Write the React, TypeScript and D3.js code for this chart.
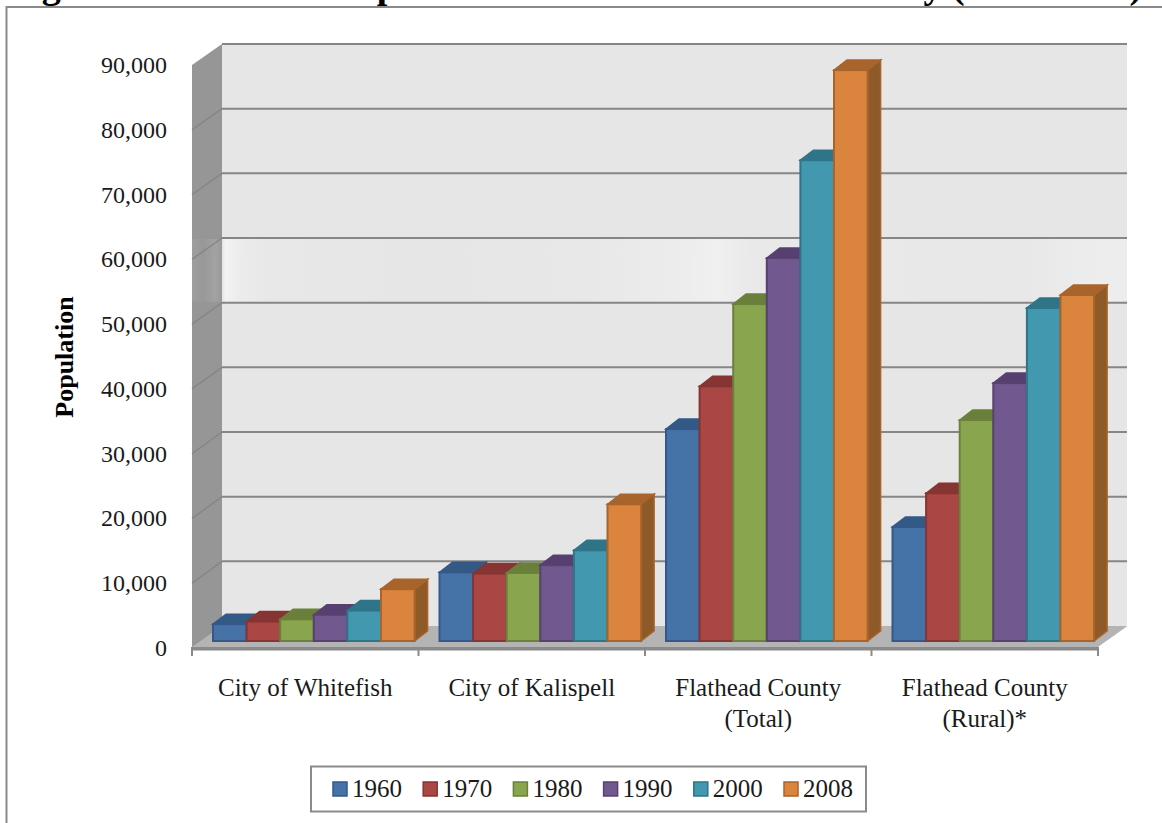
import * as d3 from "d3";
import { useLayoutEffect, useRef } from "react";

const categories = [
  ["City of Whitefish"],
  ["City of Kalispell"],
  ["Flathead County", "(Total)"],
  ["Flathead County", "(Rural)*"],
];
const years = ["1960", "1970", "1980", "1990", "2000", "2008"];

const whitefish = [2600, 3000, 3350, 4050, 4700, 8000];
const kalispell = [10600, 10400, 10500, 11700, 14000, 21100];
const countyTotal = [32700, 39300, 52000, 59100, 74200, 88100];
const countyRural = [17600, 22800, 34100, 39800, 51400, 53400];
const seriesByCategory = [whitefish, kalispell, countyTotal, countyRural];

const faceColors = ["#4572a7", "#aa4643", "#89a54e", "#71588f", "#4198af", "#db843d"];
const edgeColors = ["#35588a", "#853533", "#6b803c", "#574270", "#2f7488", "#a8642c"];
const topColors = ["#335a85", "#863533", "#6a803a", "#573f72", "#2e7588", "#a8642b"];
const sideColors = ["#34557f", "#7f3230", "#64783a", "#533d6b", "#2d6d80", "#8e5a28"];

const WIDTH = 1162;
const HEIGHT = 823;
const FONT = "'Liberation Serif', serif";
const TEXT = "#1a1a1a";
const DEPTH_X = 13;
const DEPTH_Y = 10;

export default function App() {
  const ref = useRef<SVGSVGElement>(null);

  useLayoutEffect(() => {
    const svg = d3.select(ref.current);
    svg.selectAll("*").remove();

    const x0 = d3.scaleBand<number>().domain(d3.range(categories.length)).range([192, 1098]);
    const x1 = d3.scaleBand<string>().domain(years).range([21, 222.6]);
    const yFront = d3.scaleLinear().domain([0, 90000]).range([648, 65]);
    const yBack = d3.scaleLinear().domain([0, 90000]).range([626, 44]);
    const yBar = d3.scaleLinear().domain([0, 90000]).range([641, 57.8]);
    const ticks = yFront.ticks(9);
    const poly = d3.line();

    // the strip of scan noise across the 50-60k band
    const defs = svg.append("defs");
    const noise = defs
      .append("linearGradient")
      .attr("id", "noise")
      .attr("gradientUnits", "userSpaceOnUse")
      .attr("x1", 192)
      .attr("x2", 1127)
      .attr("y1", 0)
      .attr("y2", 0);
    [
      [0, 0.08],
      [0.012, 0.02],
      [0.025, 0.12],
      [0.033, 0.02],
      [0.036, 0.5],
      [0.05, 0.25],
      [0.08, 0.08],
      [0.25, 0],
      [0.42, 0.08],
      [0.52, 0.25],
      [0.56, 0.4],
      [0.6, 0.1],
      [0.68, 0.15],
      [0.8, 0.08],
      [0.9, 0.1],
      [0.95, 0.25],
      [1, 0.3],
    ].forEach(([o, a]) => {
      noise
        .append("stop")
        .attr("offset", o)
        .attr("stop-color", "#ffffff")
        .attr("stop-opacity", a);
    });

    svg
      .append("text")
      .attr("x", 8)
      .attr("y", -2)
      .attr("font-family", FONT)
      .attr("font-size", 38)
      .attr("font-weight", "bold")
      .attr("fill", "#000")
      .text("Figure 2.1: Historic Population Trend in Flathead County (1960-2008)");

    // chart frame, runs off the right and bottom of the page
    svg
      .append("path")
      .attr("d", `M${WIDTH + 2},7H6.5V${HEIGHT + 2}`)
      .attr("fill", "none")
      .attr("stroke", "#8a8a8a")
      .attr("stroke-width", 2);

    // walls and floor
    svg
      .append("rect")
      .attr("x", 222)
      .attr("y", yBack(90000))
      .attr("width", 905)
      .attr("height", yBack(0) - yBack(90000))
      .attr("fill", "#e6e6e6");
    svg
      .append("path")
      .attr(
        "d",
        poly([
          [192, yFront(90000)],
          [222, yBack(90000)],
          [222, yBack(0)],
          [192, yFront(0)],
        ])
      )
      .attr("fill", "#969696");
    svg
      .append("path")
      .attr(
        "d",
        poly([
          [192, 647],
          [222, yBack(0)],
          [1127.5, yBack(0)],
          [1098, 647],
        ])
      )
      .attr("fill", "#b4b4b4");
    svg
      .append("rect")
      .attr("x", 192)
      .attr("y", 647)
      .attr("width", 906)
      .attr("height", 3.5)
      .attr("fill", "#8a8a8a");

    svg
      .append("rect")
      .attr("x", 192)
      .attr("y", yBack(60000) + 1)
      .attr("width", 935)
      .attr("height", yBack(50000) - yBack(60000) - 2)
      .attr("fill", "url(#noise)");

    // gridlines, back wall and left wall
    svg
      .append("g")
      .selectAll("line")
      .data(ticks.filter((t) => t > 0))
      .enter()
      .append("line")
      .attr("x1", 222)
      .attr("x2", 1127)
      .attr("y1", (d) => yBack(d))
      .attr("y2", (d) => yBack(d))
      .attr("stroke", "#868686")
      .attr("stroke-width", 2);
    svg
      .append("g")
      .selectAll("line")
      .data(ticks.filter((t) => t > 0 && t < 90000))
      .enter()
      .append("line")
      .attr("x1", 222)
      .attr("x2", 192)
      .attr("y1", (d) => yBack(d))
      .attr("y2", (d) => yFront(d))
      .attr("stroke", "#868686")
      .attr("stroke-width", 1.5);

    // axis ticks under the front edge
    svg
      .append("g")
      .selectAll("line")
      .data(d3.range(categories.length + 1))
      .enter()
      .append("line")
      .attr("x1", (d) => 192 + d * x0.step())
      .attr("x2", (d) => 192 + d * x0.step())
      .attr("y1", 647)
      .attr("y2", 656)
      .attr("stroke", "#8a8a8a")
      .attr("stroke-width", 2);

    // bars
    seriesByCategory.forEach((values, c) => {
      const g = svg.append("g");
      values.forEach((v, i) => {
        const left = (x0(c) as number) + (x1(years[i]) as number);
        const right = left + x1.bandwidth();
        const top = yBar(v);
        const bottom = yBar(0);
        const bar = g.append("g");
        bar
          .append("path")
          .attr(
            "d",
            poly([
              [right, top],
              [right + DEPTH_X, top - DEPTH_Y],
              [right + DEPTH_X, bottom - DEPTH_Y],
              [right, bottom],
            ]) + "Z"
          )
          .attr("fill", sideColors[i])
          .attr("stroke", edgeColors[i])
          .attr("stroke-width", 1.5);
        bar
          .append("path")
          .attr(
            "d",
            poly([
              [left, top],
              [left + DEPTH_X, top - DEPTH_Y],
              [right + DEPTH_X, top - DEPTH_Y],
              [right, top],
            ]) + "Z"
          )
          .attr("fill", topColors[i])
          .attr("stroke", edgeColors[i])
          .attr("stroke-width", 1.5);
        bar
          .append("rect")
          .attr("x", left)
          .attr("y", top)
          .attr("width", x1.bandwidth())
          .attr("height", bottom - top)
          .attr("fill", faceColors[i])
          .attr("stroke", edgeColors[i])
          .attr("stroke-width", 2);
      });
    });

    // y axis labels
    svg
      .append("g")
      .selectAll("text")
      .data(ticks)
      .enter()
      .append("text")
      .attr("x", 167)
      .attr("y", (d) => yFront(d) + 8)
      .attr("text-anchor", "end")
      .attr("font-family", FONT)
      .attr("font-size", 24)
      .attr("fill", TEXT)
      .text((d) => d3.format(",")(d));

    svg
      .append("text")
      .attr("transform", "translate(73,357) rotate(-90)")
      .attr("text-anchor", "middle")
      .attr("font-family", FONT)
      .attr("font-size", 26)
      .attr("font-weight", "bold")
      .attr("fill", "#000")
      .text("Population");

    // category labels
    categories.forEach((lines, c) => {
      const label = svg
        .append("text")
        .attr("text-anchor", "middle")
        .attr("font-family", FONT)
        .attr("font-size", 25)
        .attr("fill", TEXT);
      lines.forEach((line, j) => {
        label
          .append("tspan")
          .attr("x", (x0(c) as number) + x0.bandwidth() / 2)
          .attr("y", 696 + j * 31)
          .text(line);
      });
    });

    // legend
    svg
      .append("rect")
      .attr("x", 311)
      .attr("y", 766.5)
      .attr("width", 555)
      .attr("height", 45)
      .attr("fill", "#fff")
      .attr("stroke", "#8a8a8a")
      .attr("stroke-width", 2);
    const legend = svg
      .append("g")
      .selectAll("g")
      .data(years)
      .enter()
      .append("g")
      .attr("transform", (_, i) => `translate(${333 + i * 90.2},782)`);
    legend
      .append("rect")
      .attr("width", 14)
      .attr("height", 14)
      .attr("fill", (_, i) => faceColors[i])
      .attr("stroke", (_, i) => edgeColors[i])
      .attr("stroke-width", 1.5);
    legend
      .append("text")
      .attr("x", 19)
      .attr("y", 15)
      .attr("font-family", FONT)
      .attr("font-size", 25)
      .attr("fill", TEXT)
      .text((d) => d);
  }, []);

  return (
    <svg
      ref={ref}
      width={WIDTH}
      height={HEIGHT}
      style={{ position: "absolute", left: 0, top: 0, background: "#fff" }}
    />
  );
}
